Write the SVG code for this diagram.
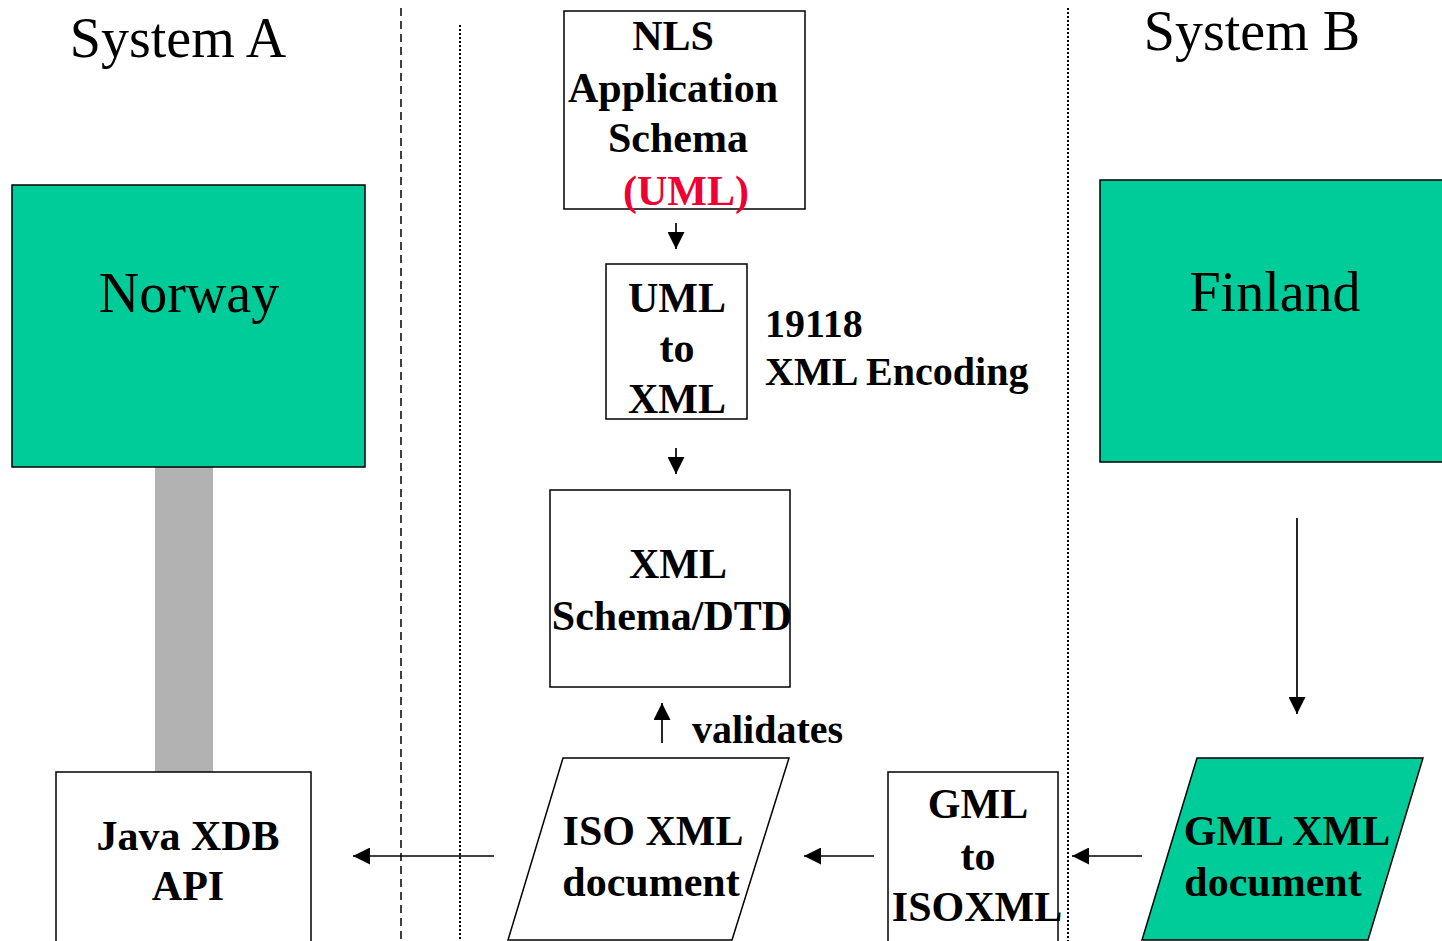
<svg xmlns="http://www.w3.org/2000/svg" width="1442" height="941" viewBox="0 0 1442 941">
  <style>
    .title { font-family: "Liberation Serif", "Times New Roman", serif; font-size: 56px; fill: #000; text-anchor: middle; }
    .lbl { font-family: "Liberation Serif", "Times New Roman", serif; font-size: 42px; font-weight: bold; fill: #000; text-anchor: middle; }
    .note { font-family: "Liberation Serif", "Times New Roman", serif; font-size: 40px; font-weight: bold; fill: #000; }
    .box { fill: #fff; stroke: #000; stroke-width: 1.5; }
    .green { fill: #00cc99; stroke: #000; stroke-width: 1.5; }
    .conn { stroke: #000; stroke-width: 1.7; fill: none; marker-end: url(#arrow); }
    .dash { stroke: #000; stroke-width: 1.5; stroke-dasharray: 8 5; }
    .dot { stroke: #000; stroke-width: 2; stroke-dasharray: 2 2; }
  </style>
  <defs>
    <marker id="arrow" viewBox="0 0 10 10" refX="10" refY="5" markerWidth="17" markerHeight="17" markerUnits="userSpaceOnUse" orient="auto">
      <path d="M0,0 L10,5 L0,10 z" fill="#000"/>
    </marker>
  </defs>
  <rect width="1442" height="941" fill="#fff"/>

  <!-- swimlane separators -->
  <g id="separators">
    <line class="dash" x1="401" y1="8" x2="401" y2="941"/>
    <line class="dot" x1="460" y1="25" x2="460" y2="941"/>
    <line class="dot" x1="1068" y1="8" x2="1068" y2="941"/>
  </g>

  <text class="title" x="178" y="57">System A</text>
  <text class="title" x="1252" y="50">System B</text>

  <!-- grey link between Norway and the Java API -->
  <rect x="155" y="467" width="58" height="305" fill="#b2b2b2"/>

  <g id="norway">
    <rect class="green" x="12" y="185" width="353" height="282"/>
    <text class="title" x="189" y="312">Norway</text>
  </g>

  <g id="finland">
    <rect class="green" x="1100" y="180" width="345" height="282"/>
    <text class="title" x="1275" y="311">Finland</text>
  </g>

  <g id="nls-schema">
    <rect class="box" x="564" y="11" width="241" height="198"/>
    <text class="lbl" x="673" y="50">NLS</text>
    <text class="lbl" x="673" y="102">Application</text>
    <text class="lbl" x="678" y="152">Schema</text>
    <text class="lbl" x="686" y="205" style="fill:#ee0033">(UML)</text>
  </g>

  <g id="uml-to-xml">
    <rect class="box" x="606" y="264" width="141" height="155"/>
    <text class="lbl" x="677" y="312">UML</text>
    <text class="lbl" x="677" y="362">to</text>
    <text class="lbl" x="677" y="413">XML</text>
  </g>
  <text class="note" x="765" y="337">19118</text>
  <text class="note" x="765" y="385">XML Encoding</text>

  <g id="xml-schema">
    <rect class="box" x="550" y="490" width="240" height="197"/>
    <text class="lbl" x="678" y="578">XML</text>
    <text class="lbl" x="672" y="630">Schema/DTD</text>
  </g>
  <text class="note" x="692" y="743">validates</text>

  <g id="iso-xml-doc">
    <polygon class="box" points="563,758 789,758 732,940 508,940"/>
    <text class="lbl" x="653" y="845">ISO XML</text>
    <text class="lbl" x="651" y="896">document</text>
  </g>

  <g id="gml-to-isoxml">
    <rect class="box" x="888" y="772" width="170" height="172"/>
    <text class="lbl" x="978" y="818">GML</text>
    <text class="lbl" x="978" y="870">to</text>
    <text class="lbl" x="977" y="921">ISOXML</text>
  </g>

  <g id="gml-xml-doc">
    <polygon class="green" points="1197,758 1423,758 1368,940 1142,940"/>
    <text class="lbl" x="1287" y="845">GML XML</text>
    <text class="lbl" x="1273" y="896">document</text>
  </g>

  <g id="java-xdb">
    <rect class="box" x="56" y="772" width="255" height="172"/>
    <text class="lbl" x="188" y="850">Java XDB</text>
    <text class="lbl" x="188" y="900">API</text>
  </g>

  <g id="connectors">
    <line class="conn" x1="676" y1="223" x2="676" y2="249"/>
    <line class="conn" x1="676" y1="448" x2="676" y2="474"/>
    <line class="conn" x1="662" y1="743" x2="662" y2="703"/>
    <line class="conn" x1="1297" y1="518" x2="1297" y2="714"/>
    <line class="conn" x1="1142" y1="856" x2="1072" y2="856"/>
    <line class="conn" x1="874" y1="856" x2="804" y2="856"/>
    <line class="conn" x1="494" y1="856" x2="353" y2="856"/>
  </g>
</svg>
